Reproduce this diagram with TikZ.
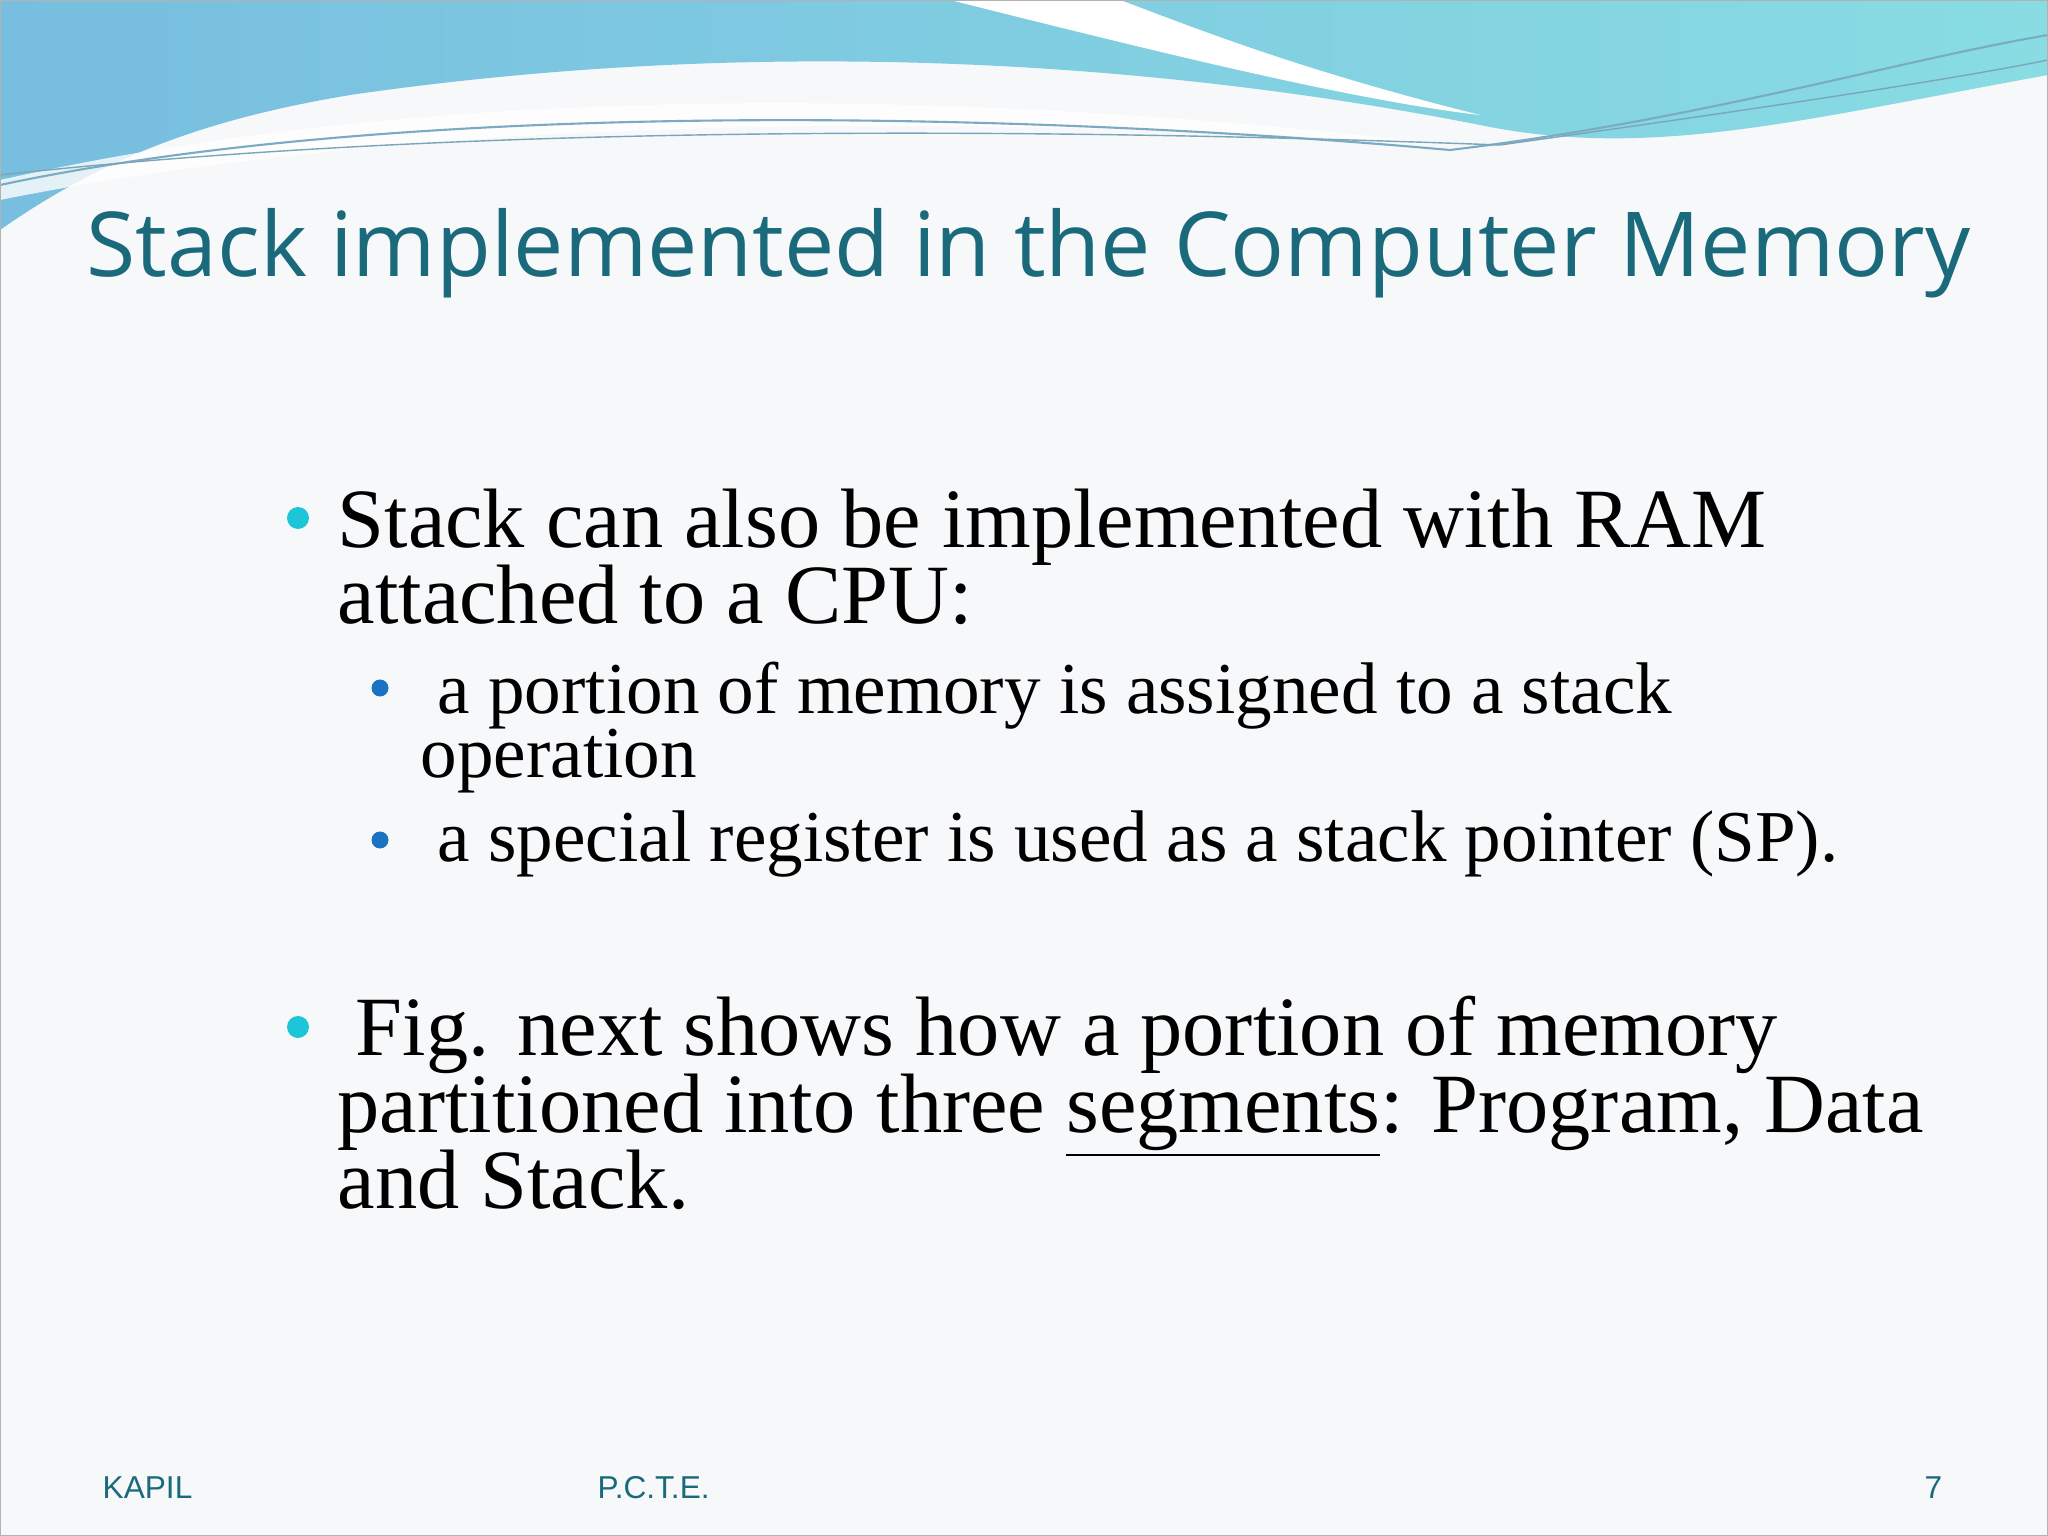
\documentclass[tikz,border=0pt]{standalone}
\usepackage{fontspec}
\setmainfont{Liberation Serif}
\newfontfamily\titlefont{Open Sans}
\newfontfamily\footfont{Liberation Sans}
\definecolor{titlecol}{HTML}{1A6A7C}
\definecolor{bulA}{HTML}{1CC6D8}
\definecolor{bulB}{HTML}{1A72C0}
\definecolor{waveA}{HTML}{78BEE0}
\definecolor{waveB}{HTML}{88DCE2}
\definecolor{bg}{HTML}{F7F8FA}
\tikzset{
 body/.style={anchor=base west,inner sep=0pt,font=\fontsize{24}{28}\selectfont},
 sub/.style={anchor=base west,inner sep=0pt,font=\fontsize{20.8}{24}\selectfont},
 foot/.style={anchor=base west,inner sep=0pt,font=\footfont\fontsize{9}{11}\selectfont,text=titlecol},
}
\begin{document}
\begin{tikzpicture}
\useasboundingbox (0,0) rectangle (20.48,-15.36);
\fill[bg] (0,0) rectangle (20.48,-15.36);
% wave
\shade[left color=waveA,right color=waveB] (0,0) -- (20.48,0) -- (20.48,-0.75)
 .. controls (18,-1.2) and (16.5,-1.6) .. (14.8,-1.25)
 .. controls (12,-0.7) and (8,-0.3) .. (3.5,-0.95)
 .. controls (2,-1.2) and (1,-1.6) .. (0,-2.3) -- cycle;
\fill[white] (9.5,0) .. controls (11.5,-0.5) and (13.5,-1.0) .. (14.8,-1.15)
 .. controls (13,-0.7) and (12,-0.3) .. (11.2,0) -- cycle;
\fill[white,opacity=0.8] (0,-1.8) .. controls (4,-0.9) and (9,-0.8) .. (14.5,-1.45)
 .. controls (9,-1.1) and (4,-1.2) .. (0,-2.0) -- cycle;
\draw[waveA!70!gray,line width=0.6pt] (0,-1.85) .. controls (4,-1.0) and (10,-1.1) .. (14.5,-1.5) .. controls (17,-1.2) and (19,-0.6) .. (20.48,-0.35);
\draw[waveA!60!gray,line width=0.4pt] (0,-1.75) .. controls (5,-1.2) and (11,-1.3) .. (15,-1.45) .. controls (17.5,-1.1) and (19.5,-0.8) .. (20.48,-0.6);
% title
\node[anchor=base west,inner sep=0pt,text=titlecol,font=\titlefont\fontsize{25.5}{30}\selectfont] (title) at (0.86,-2.77) {Stack implemented in the Computer Memory};
% bullets
\fill[bulA] (2.98,-5.18) circle (0.11);
\node[body] (b1a) at (3.37,-5.48) {Stack can also be implemented with RAM};
\node[body] (b1b) at (3.37,-6.24) {attached to a CPU:};
\fill[bulB] (3.80,-6.88) circle (0.085);
\node[sub] (s1a) at (4.37,-7.14) {a portion of memory is assigned to a stack};
\node[sub] (s1b) at (4.20,-7.77) {operation};
\fill[bulB] (3.80,-8.40) circle (0.085);
\node[sub] (s2) at (4.37,-8.62) {a special register is used as a stack pointer (SP).};
\fill[bulA] (2.98,-10.27) circle (0.11);
\node[body] (b2a) at (3.55,-10.55) {Fig. next shows how a portion of memory};
\node[body] (b2b) at (3.37,-11.32) {partitioned into three \underline{segments}: Program, Data};
\node[body] (b2c) at (3.37,-12.08) {and Stack.};
% footer
\node[foot] (f1) at (1.02,-14.98) {KAPIL};
\node[foot] (f2) at (5.97,-14.98) {P.C.T.E.};
\node[foot,anchor=base east] (f3) at (19.43,-14.98) {7};
\draw[gray!60,line width=0.5pt] (0,0) rectangle (20.48,-15.36);
\end{tikzpicture}
\end{document}
